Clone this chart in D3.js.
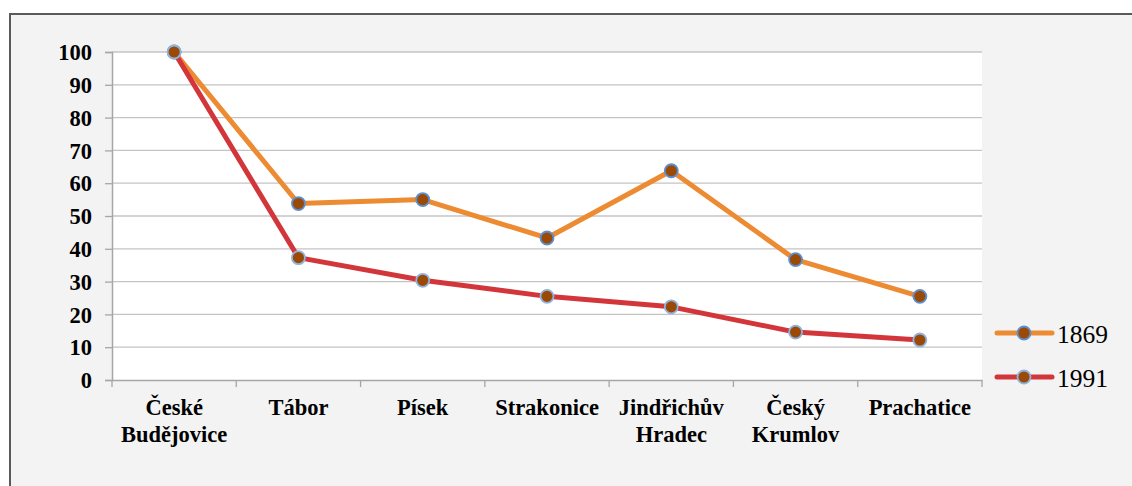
<!DOCTYPE html>
<html>
<head>
<meta charset="utf-8">
<script src="https://cdn.jsdelivr.net/npm/d3@7"></script>
<style>
body { margin: 0; background: #fff; }
</style>
</head>
<body>
<script>
// data
const districts = ["České Budějovice", "Tábor", "Písek", "Strakonice", "Jindřichův Hradec", "Český Krumlov", "Prachatice"];
const labelLines = [["České", "Budějovice"], ["Tábor"], ["Písek"], ["Strakonice"], ["Jindřichův", "Hradec"], ["Český", "Krumlov"], ["Prachatice"]];
const v1869 = [100, 53.8, 55, 43.3, 63.8, 36.7, 25.5];
const v1991 = [100, 37.3, 30.4, 25.5, 22.3, 14.6, 12.2];
const yTicks = [0, 10, 20, 30, 40, 50, 60, 70, 80, 90, 100];
const seriesNames = ["1869", "1991"];
const colors = ["#ed8b33", "#d2363a"];

const FONT = "'Liberation Serif'";
const W = 1132, H = 486;
const margin = {top: 52, right: 150, bottom: 106, left: 112};
const width = W - margin.left - margin.right,
height = H - margin.top - margin.bottom;

const svg = d3.select("body").append("svg")
.attr("width", W)
.attr("height", H)
.style("font-family", FONT);

// frame
svg.append("rect")
.attr("x", 10).attr("y", 14)
.attr("width", W + 10).attr("height", H + 10)
.attr("fill", "#f3f3f3")
.attr("stroke", "#5a5a5a")
.attr("stroke-width", 2);

const g = svg.append("g")
.attr("transform", "translate(" + margin.left + "," + margin.top + ")");

const x = d3.scaleBand().domain(districts).range([0, width]);
const y = d3.scaleLinear().domain([0, 100]).range([height, 0]);

// plot area
g.append("rect")
.attr("width", width).attr("height", height)
.attr("fill", "#fff");

// gridlines
g.append("g")
.selectAll("line")
.data(yTicks.filter(d => d > 0))
.join("line")
.attr("x1", 0).attr("x2", width)
.attr("y1", d => y(d)).attr("y2", d => y(d))
.attr("stroke", "#c4c4c4")
.attr("stroke-width", 1.3);

// y axis
const yAxis = g.append("g")
.call(d3.axisLeft(y).tickValues(yTicks).tickSize(7).tickPadding(13));
yAxis.attr("font-family", null).attr("font-size", null);
yAxis.select(".domain").attr("stroke", "#a6a6a6").attr("stroke-width", 1.5);
yAxis.selectAll(".tick line").attr("stroke", "#a6a6a6").attr("stroke-width", 1.3);
yAxis.selectAll("text")
.attr("fill", "#000")
.attr("dy", "0.34em")
.style("font-family", FONT)
.style("font-size", "22.5px")
.style("font-weight", "bold");

// x axis
const xAxis = g.append("g")
.attr("transform", "translate(0," + height + ")")
.call(d3.axisBottom(x).tickSizeOuter(0).tickSize(0).tickFormat(""));
xAxis.select(".domain").attr("stroke", "#a6a6a6").attr("stroke-width", 1.5);

// x tick marks at band boundaries
g.append("g")
.selectAll("line")
.data(districts.map(d => x(d)).concat([width]))
.join("line")
.attr("x1", d => d).attr("x2", d => d)
.attr("y1", height).attr("y2", height + 7)
.attr("stroke", "#a6a6a6")
.attr("stroke-width", 1.3);

// x labels
const xl = g.append("g").selectAll("text")
.data(districts)
.join("text")
.attr("x", d => x(d) + x.bandwidth() / 2)
.attr("y", height + 35)
.attr("text-anchor", "middle")
.style("font-family", FONT)
.style("font-size", "22.5px")
.style("font-weight", "bold");
xl.selectAll("tspan")
.data((d, i) => labelLines[i])
.join("tspan")
.attr("x", function() { return this.parentNode.getAttribute("x"); })
.attr("dy", (d, i) => i === 0 ? 0 : 27)
.text(d => d);

const line = d3.line()
.x((d, i) => x(districts[i]) + x.bandwidth() / 2)
.y(d => y(d));

const series = [v1869, v1991];

// draw 1869 first, then 1991 on top
series.forEach(function(vals, s) {
  g.append("path")
  .attr("d", line(vals))
  .attr("fill", "none")
  .attr("stroke", colors[s])
  .attr("stroke-width", 5)
  .attr("stroke-linejoin", "round");
});
series.forEach(function(vals, s) {
  g.append("g").selectAll("circle")
  .data(vals)
  .join("circle")
  .attr("cx", (d, i) => x(districts[i]) + x.bandwidth() / 2)
  .attr("cy", d => y(d))
  .attr("r", 6.5)
  .attr("fill", "#9a4a06")
  .attr("stroke", s === 0 ? "#5b8fd0" : "#8fb4e0")
  .attr("stroke-width", 1.8);
});

// legend
const legend = svg.append("g");
seriesNames.forEach(function(name, s) {
  const ly = 333 + s * 44;
  legend.append("line")
  .attr("x1", 997).attr("x2", 1052)
  .attr("y1", ly).attr("y2", ly)
  .attr("stroke", colors[s])
  .attr("stroke-width", 5)
  .attr("stroke-linecap", "round");
  legend.append("circle")
  .attr("cx", 1024).attr("cy", ly)
  .attr("r", 6.5)
  .attr("fill", "#9a4a06")
  .attr("stroke", s === 0 ? "#5b8fd0" : "#8fb4e0")
  .attr("stroke-width", 1.8);
  legend.append("text")
  .attr("x", 1057).attr("y", ly + 10)
  .style("font-family", FONT)
  .style("font-size", "25.5px")
  .text(name);
});
</script>
</body>
</html>
